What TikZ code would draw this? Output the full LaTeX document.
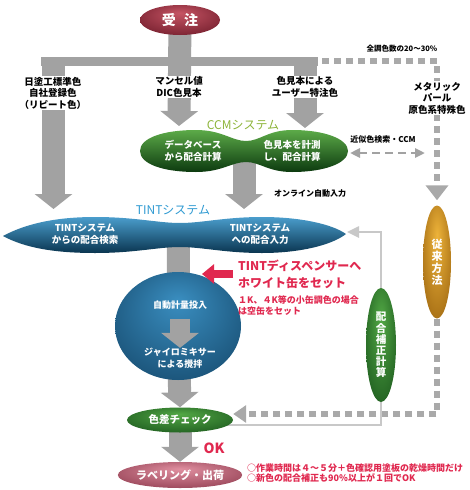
\documentclass[tikz,border=0pt]{standalone}
\usepackage{fontspec}
\setmainfont{Noto Sans CJK JP}
\usepackage{tikz}
\usetikzlibrary{arrows.meta,calc,backgrounds,shapes.geometric}
\definecolor{barGray}{HTML}{A2A2A2}
\definecolor{dotGray}{HTML}{A9A9A9}
\definecolor{lineGray}{HTML}{C8C8C8}
\definecolor{ccmLabel}{HTML}{8DB43A}
\definecolor{tintLabel}{HTML}{2F9AD2}
\definecolor{alertRed}{HTML}{E0284F}
\definecolor{orderLight}{HTML}{C65464}
\definecolor{orderDark}{HTML}{5A0E1C}
\definecolor{blobLight}{HTML}{3A8EC0}
\definecolor{blobDark}{HTML}{0D3A5A}
\definecolor{greenLight}{HTML}{52A845}
\definecolor{greenDark}{HTML}{0F4514}
\definecolor{shipLight}{HTML}{E08FA0}
\definecolor{shipDark}{HTML}{7E2A3E}
\definecolor{goldLight}{HTML}{EDB33A}
\definecolor{goldDark}{HTML}{8A5306}
\definecolor{tintTop}{HTML}{4A9DCC}
\definecolor{tintMid}{HTML}{1E6A99}
\definecolor{tintBot}{HTML}{0A3550}
\definecolor{ccmTop}{HTML}{5CAA48}
\definecolor{ccmMid}{HTML}{2A7A2A}
\definecolor{ccmBot}{HTML}{0C3A0F}
\colorlet{glossIn}{white}
\colorlet{glossOut}{black}
\pgfdeclareradialshading[glossIn,glossOut]{glossy}{\pgfpoint{0bp}{12bp}}{color(0bp)=(glossIn);color(18bp)=(glossIn!60!glossOut);color(38bp)=(glossOut!85!glossIn);color(50bp)=(glossOut)}

\begin{document}
\begin{tikzpicture}[x=1pt,y=-1pt,
  lbl/.style={fill=white,inner sep=1pt,align=center,font=\bfseries\fontsize{9.5}{11.5}\selectfont},
  inlbl/.style={text=white,inner sep=0pt,align=center,font=\bfseries\fontsize{9.5}{11.5}\selectfont},
  oval/.style={ellipse,inner sep=0pt,text=white,align=center},
  gloss/.style 2 args={/utils/exec={\colorlet{glossIn}{#1}\colorlet{glossOut}{#2}},shade,shading=glossy},
  grayarrow/.style={barGray,line width=23pt,-{Triangle[width=37pt,length=15pt]}},
  graybar/.style={barGray,line width=23pt},
  dotline/.style={dotGray,line width=6pt,dash pattern=on 7pt off 5pt},
  thinline/.style={lineGray,line width=2.5pt},
  alert/.style={alertRed,inner sep=0pt,align=left}]
\useasboundingbox (0,0) rectangle (470,490);

\coordinate (barL) at (41,61);
\coordinate (barR) at (318,61);
\coordinate (colL) at (53.5,57);
\coordinate (tintInL) at (53.5,209);
\coordinate (ccmInM) at (179,126);
\coordinate (colR) at (305,57);
\coordinate (ccmInR) at (305,128);
\coordinate (ccmOut) at (244,160);
\coordinate (tintIn) at (244,209);
\coordinate (tintOut) at (178.5,240);
\coordinate (dotS) at (322,61);
\coordinate (dotC) at (437,61);
\coordinate (dotB) at (437,414);
\coordinate (tintArr) at (347,232);
\coordinate (approxL) at (350,153);
\coordinate (approxR) at (425,153);
\coordinate (redTip) at (202,274);

\node[oval,gloss={orderLight}{orderDark},minimum width=80pt,minimum height=30pt,font=\bfseries\fontsize{14}{14}\selectfont] (order) at (180,20) {受\hspace{0.6em}注};
\node[lbl] (repeatCol) at (53,93) {日塗工標準色\\自社登録色\\（リピート色）};
\node[lbl] (munsell) at (179,87) {マンセル値\\DIC色見本};
\node[lbl] (userCol) at (305,87) {色見本による\\ユーザー特注色};
\node[lbl,fill=none,font=\bfseries\fontsize{7.5}{9}\selectfont] (share) at (402,49) {全調色数の20～30\%};
\node[lbl] (special) at (437,98) {メタリック\\パール\\原色系特殊色};
\node[ccmLabel,font=\fontsize{12}{12}\selectfont] (ccmTitle) at (243,125) {CCMシステム};
\node[inlbl] (ccmL) at (193,151) {データベース\\から配合計算};
\node[inlbl] (ccmR) at (292,151) {色見本を計測\\し、配合計算};
\node[lbl,fill=none,font=\bfseries\fontsize{8}{9}\selectfont] (approx) at (383,139) {近似色検索・CCM};
\node[lbl,fill=none,font=\bfseries\fontsize{8}{9}\selectfont] (online) at (310,193) {オンライン自動入力};
\node[tintLabel,font=\fontsize{12}{12}\selectfont] (tintTitle) at (173,210) {TINTシステム};
\node[inlbl] (tintL) at (85,234) {TINTシステム\\からの配合検索};
\node[inlbl] (tintR) at (260,234) {TINTシステム\\への配合入力};

\node[oval,gloss={blobLight}{blobDark},minimum width=126pt,minimum height=108pt] (blob) at (178,326) {};
\node[inlbl,font=\bfseries\fontsize{9}{11.5}\selectfont] (dosing) at (180,305) {自動計量投入};
\node[inlbl,font=\bfseries\fontsize{9}{11.5}\selectfont] (gyro) at (180,358) {ジャイロミキサー\\による攪拌};
\draw[grayarrow,line width=20pt,shorten <=9pt] (dosing.south) -- (gyro.north);

\node[alert,anchor=west,font=\bfseries\fontsize{12}{17}\selectfont] (dispenser) at (238,274) {TINTディスペンサーへ\\ホワイト缶をセット};
\node[alert,anchor=west,font=\bfseries\fontsize{9}{11}\selectfont] (smallCan) at (238,306) {１K、４K等の小缶調色の場合\\は空缶をセット};
\draw[alertRed,line width=8pt,-{Triangle[width=19pt,length=12pt]},shorten <=5pt] (dispenser.west) -- (redTip);

\node[oval,gloss={goldLight}{goldDark},minimum width=28pt,minimum height=113pt,font=\bfseries\fontsize{11}{12}\selectfont] (old) at (437,262) {従\\来\\方\\法};
\node[oval,gloss={greenLight}{greenDark},minimum width=30pt,minimum height=114pt,font=\bfseries\fontsize{10.5}{11.2}\selectfont] (corr) at (381,345) {配\\合\\補\\正\\計\\算};

\node[oval,gloss={greenLight}{greenDark},minimum width=106pt,minimum height=25pt,font=\bfseries\fontsize{10.5}{11}\selectfont] (check) at (180,420) {色差チェック};
\node[alertRed,font=\bfseries\fontsize{14}{14}\selectfont] (ok) at (214,448) {OK};
\node[oval,gloss={shipLight}{shipDark},minimum width=112pt,minimum height=26pt,font=\bfseries\fontsize{11}{11}\selectfont] (ship) at (180,475) {ラベリング・出荷};
\node[alert,anchor=west,font=\bfseries\fontsize{9}{10}\selectfont] (notes) at (247,473) {○作業時間は４～５分＋色確認用塗板の乾燥時間だけ\\○新色の配合補正も90\%以上が１回でOK};

\begin{scope}[on background layer]
\draw[graybar,line width=9pt] (barL) -- (barR);
\draw[grayarrow] (colL) -- (tintInL);
\draw[grayarrow] (order.center) -- (ccmInM);
\draw[grayarrow] (colR) -- (ccmInR);
\draw[grayarrow] (ccmOut) -- (tintIn);
\draw[graybar] (tintOut) -- (blob.center);
\draw[grayarrow] (blob.center) -- (check.north);
\draw[grayarrow] (check.center) -- (ship.north);
\draw[dotline,-{Triangle[width=22pt,length=15pt]},shorten >=5pt] (dotS) -- (dotC) -- (old.north);
\draw[dotline,-{Triangle[width=17pt,length=13pt]}] (old.south) -- (dotB) -- (check.east |- dotB);
\draw[thinline,-{Triangle[width=11pt,length=12pt]}] ($(check.center)+(0,5)$) -| (corr.center) |- (tintArr);
\draw[barGray,line width=2.5pt,dash pattern=on 8pt off 5pt,{Triangle[width=9pt,length=10pt]}-{Triangle[width=9pt,length=10pt]}] (approxL) -- (approxR);
\shade[top color=ccmTop,middle color=ccmMid,bottom color=ccmBot] (140,151) .. controls (140,138) and (163,130) .. (196,130) .. controls (222,130) and (232,141) .. (246,141) .. controls (260,141) and (268,130) .. (292,130) .. controls (325,130) and (348,139) .. (348,151) .. controls (348,163) and (325,172) .. (292,172) .. controls (268,172) and (260,162) .. (246,162) .. controls (232,162) and (222,172) .. (196,172) .. controls (163,172) and (140,164) .. (140,151) -- cycle;
\shade[top color=tintTop,middle color=tintMid,bottom color=tintBot] (3,236) .. controls (25,224) and (55,217) .. (95,217) .. controls (135,217) and (158,223) .. (180,223) .. controls (202,223) and (225,217) .. (262,217) .. controls (300,217) and (332,224) .. (346,234) .. controls (332,245) and (300,253) .. (262,253) .. controls (225,253) and (202,247) .. (180,247) .. controls (158,247) and (135,253) .. (95,253) .. controls (55,253) and (25,248) .. (3,236) -- cycle;
\end{scope}
\end{tikzpicture}
\end{document}
